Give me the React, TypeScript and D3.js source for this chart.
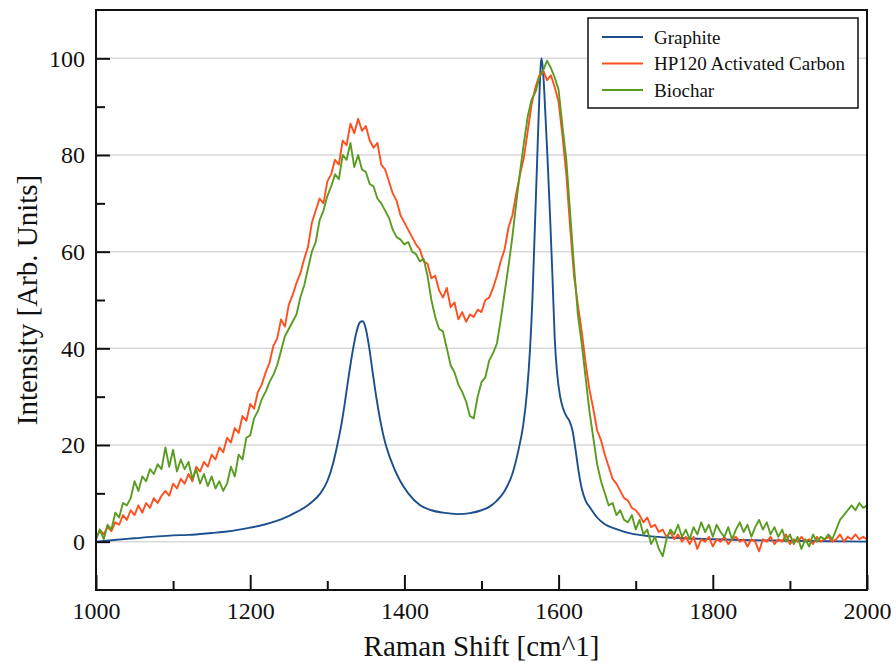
import { axisBottom, axisLeft, line, curveMonotoneX, scaleLinear, select } from "d3";
import { useEffect, useRef } from "react";

// Raman shift grid for the two noisy spectra (cm^-1)
const shift = [
  1000, 1005, 1010, 1015, 1020, 1025, 1030, 1035, 1040, 1045, 1050, 1055, 1060, 1065, 1070, 1075, 1080, 1085, 1090, 1095,
  1100, 1105, 1110, 1115, 1120, 1125, 1130, 1135, 1140, 1145, 1150, 1155, 1160, 1165, 1170, 1175, 1180, 1185, 1190, 1195,
  1200, 1205, 1210, 1215, 1220, 1225, 1230, 1235, 1240, 1245, 1250, 1255, 1260, 1265, 1270, 1275, 1280, 1285, 1290, 1295,
  1300, 1305, 1310, 1315, 1320, 1325, 1330, 1335, 1340, 1345, 1350, 1355, 1360, 1365, 1370, 1375, 1380, 1385, 1390, 1395,
  1400, 1405, 1410, 1415, 1420, 1425, 1430, 1435, 1440, 1445, 1450, 1455, 1460, 1465, 1470, 1475, 1480, 1485, 1490, 1495,
  1500, 1505, 1510, 1515, 1520, 1525, 1530, 1535, 1540, 1545, 1550, 1555, 1560, 1565, 1570, 1575, 1580, 1585, 1590, 1595,
  1600, 1605, 1610, 1615, 1620, 1625, 1630, 1635, 1640, 1645, 1650, 1655, 1660, 1665, 1670, 1675, 1680, 1685, 1690, 1695,
  1700, 1705, 1710, 1715, 1720, 1725, 1730, 1735, 1740, 1745, 1750, 1755, 1760, 1765, 1770, 1775, 1780, 1785, 1790, 1795,
  1800, 1805, 1810, 1815, 1820, 1825, 1830, 1835, 1840, 1845, 1850, 1855, 1860, 1865, 1870, 1875, 1880, 1885, 1890, 1895,
  1900, 1905, 1910, 1915, 1920, 1925, 1930, 1935, 1940, 1945, 1950, 1955, 1960, 1965, 1970, 1975, 1980, 1985, 1990, 1995,
  2000,
];

const hp120 = [
  0.5, 2.5, 1.5, 3.0, 2.2, 4.0, 3.5, 5.5, 4.5, 6.5, 5.5, 7.5, 6.0, 8.0, 7.0, 9.0, 8.0, 9.5, 10.5, 9.5,
  12.0, 11.0, 13.0, 12.0, 14.0, 12.5, 15.5, 14.5, 16.5, 15.5, 18.0, 17.0, 19.5, 18.5, 21.5, 20.5, 23.5, 22.5, 26.0, 25.0,
  28.5, 27.5, 31.0, 32.5, 35.0, 37.0, 40.5, 42.0, 46.0, 44.5, 49.0, 51.0, 53.5, 55.5, 58.5, 61.0, 66.0, 68.5, 71.0, 70.0,
  74.5, 76.0, 79.0, 78.0, 83.0, 82.0, 86.5, 84.5, 87.5, 85.0, 86.0, 83.0, 81.5, 82.5, 78.0, 77.0, 74.5, 72.0, 70.5, 67.5,
  66.0, 64.5, 63.0, 61.5, 60.5, 58.0, 57.5, 54.5, 55.0, 52.0, 50.5, 52.5, 48.5, 49.5, 46.0, 47.5, 45.5, 47.0, 46.5, 48.0,
  47.5, 50.0, 50.5, 52.5, 55.0, 58.0, 60.5, 65.0, 67.5, 72.0, 76.0, 79.5, 85.0, 90.5, 94.0, 96.5, 97.5, 95.5, 96.5, 94.0,
  91.0, 84.0, 76.0, 65.0, 55.0, 49.0, 43.5, 37.0, 31.5, 27.5, 23.0, 21.0, 18.0, 15.5, 13.0, 12.0, 10.5, 9.0, 8.5, 7.0,
  6.5, 5.5, 4.0, 5.0, 3.0, 3.5, 2.0, 2.5, 1.0, 2.0, 0.5, 1.5, 0.0, 1.0, -0.5, 1.0, -1.5, 0.5, 0.0, 1.0,
  -1.0, 0.5, 0.0, 1.0, -0.5, 0.5, 1.0, 0.0, 0.5, -1.0, 0.5, 0.0, -2.0, 0.5, 0.0, 1.0, -0.5, 0.5, 0.0, 1.5,
  -0.5, 0.5, 0.0, 1.0, 0.0, 0.5, -0.5, 1.0, 0.0, 0.5, 1.0, 0.0, 0.5, 1.5, 0.0, 1.0, 0.5, 1.5, 0.5, 1.0,
  0.5,
];

const biochar = [
  0.5, 2.5, 0.5, 3.5, 2.5, 6.0, 5.0, 8.0, 7.5, 9.0, 12.5, 10.5, 13.5, 12.5, 15.0, 14.0, 16.0, 15.0, 19.5, 15.5,
  19.0, 14.5, 17.0, 15.0, 16.5, 13.0, 15.0, 12.0, 14.0, 11.5, 13.5, 11.0, 12.5, 10.5, 12.0, 15.5, 13.5, 18.0, 17.0, 21.5,
  22.0, 25.5, 27.0, 29.5, 31.0, 33.0, 34.5, 36.5, 39.5, 42.5, 44.0, 45.5, 47.0, 50.5, 53.0, 56.5, 60.0, 62.0, 66.5, 68.5,
  71.5, 73.5, 76.0, 75.0, 80.0, 79.0, 82.5, 77.5, 80.0, 77.0, 76.5, 74.0, 73.5, 71.0, 70.0, 68.5, 67.0, 64.5, 63.0, 62.5,
  61.5, 62.0, 60.0, 59.5, 58.0, 58.5, 55.0, 50.0, 46.5, 44.0, 43.5, 40.0, 36.5, 35.0, 32.5, 31.0, 29.0, 26.0, 25.5, 30.0,
  33.0, 34.0, 37.5, 39.0, 41.0, 46.0, 51.5, 57.0, 63.0, 70.0, 76.5, 82.5, 88.0, 91.5, 93.0, 96.0, 97.5, 99.5, 98.0, 96.0,
  93.5, 86.0, 79.0, 68.0, 57.0, 47.0, 41.0, 34.0, 27.0, 21.5, 16.0, 12.5, 10.0, 7.5, 8.0, 5.5, 6.5, 4.5, 4.0, 5.5,
  2.5, 4.5, 1.5, 2.5, -0.5, 1.0, -1.5, -3.0, 0.5, 2.5, 1.5, 3.5, 1.0, 2.5, 0.5, 3.0, 1.5, 4.0, 2.0, 3.5,
  1.0, 3.5, 2.0, 1.0, 3.0, 0.5, 2.5, 4.0, 2.0, 3.5, 1.0, 3.0, 4.5, 2.5, 4.0, 1.5, 3.0, 1.0, 2.5, 0.0,
  1.5, -0.5, 1.0, -1.5, 0.5, -1.0, 1.5, 0.0, 1.0, 0.5, 1.5, 0.5, 2.5, 4.5, 5.5, 6.5, 7.5, 6.5, 8.0, 7.0,
  7.5,
];

// graphite is smooth, sampled more densely around the D and G bands
const graphiteShift = [
  1000, 1020, 1050, 1080, 1100, 1120, 1150, 1170, 1200, 1220, 1240, 1256, 1270, 1280, 1291, 1300, 1308, 1313, 1318, 1323,
  1328, 1333, 1338, 1343, 1346, 1350, 1354, 1358, 1362, 1366, 1370, 1375, 1381, 1394, 1405, 1420, 1435, 1450, 1470, 1485,
  1500, 1510, 1520, 1530, 1540, 1548, 1554, 1559, 1563, 1566, 1569, 1572, 1575, 1577, 1578, 1580, 1583, 1586, 1589, 1592,
  1595, 1598, 1602, 1606, 1610, 1614, 1618, 1622, 1626, 1630, 1635, 1641, 1650, 1660, 1675, 1693, 1720, 1750, 1800, 1850,
  1900, 1950, 2000,
];
const graphite = [
  0.0, 0.3, 0.7, 1.1, 1.3, 1.4, 1.8, 2.1, 2.9, 3.6, 4.6, 5.8, 7.0, 8.2, 10.0, 12.5, 16.5, 20.0, 24.0, 29.0,
  34.5, 39.5, 43.5, 45.5, 45.6, 44.0, 40.5, 36.0, 31.5, 27.5, 24.0, 20.5, 17.5, 12.7, 10.0, 7.6, 6.5, 6.0, 5.7, 5.9,
  6.5, 7.2, 8.5, 10.5, 14.0, 19.0, 24.0, 31.0, 40.0, 50.0, 64.0, 78.0, 92.0, 99.0, 100.0, 97.0, 88.0, 78.0, 67.0, 55.0,
  42.0, 35.0, 30.0, 27.5, 26.0, 25.0, 23.0, 19.0, 14.5, 11.0, 8.5, 7.0, 5.0, 3.6, 2.6, 1.7, 1.1, 0.8, 0.5, 0.3,
  0.2, 0.1, 0.0,
];

const xMajor = [1000, 1200, 1400, 1600, 1800, 2000];
const xMinor = [1100, 1300, 1500, 1700, 1900];
const yMajor = [0, 20, 40, 60, 80, 100];
const yMinor = [10, 30, 50, 70, 90];

const seriesNames = ["Graphite", "HP120 Activated Carbon", "Biochar"];
const seriesColors = ["#1c4f8e", "#ff4f1f", "#5a9c22"];

const W = 896;
const H = 663;
const margin = { top: 10, right: 29, bottom: 73, left: 96 };
const width = W - margin.left - margin.right;
const height = H - margin.top - margin.bottom;
const FONT = "Liberation Serif";

const x = scaleLinear().domain([1000, 2000]).range([0, width]);
const y = scaleLinear().domain([-10, 110]).range([height, 0]);

export default function App() {
  const xAxisRef = useRef<SVGGElement>(null);
  const yAxisRef = useRef<SVGGElement>(null);
  const xMinorRef = useRef<SVGGElement>(null);
  const yMinorRef = useRef<SVGGElement>(null);

  useEffect(() => {
    const style = (g: any) => {
      g.attr("font-family", null).attr("font-size", null);
      g.select(".domain").remove();
      g.selectAll("line").attr("stroke", "#111").attr("stroke-width", 2);
      g.selectAll("text").style("font-family", FONT).style("font-size", "24px").attr("fill", "#111");
    };
    select(xAxisRef.current).call(axisBottom(x).tickValues(xMajor).tickSize(-15).tickPadding(12).tickFormat((d: any) => String(d))).call(style);
    select(yAxisRef.current).call(axisLeft(y).tickValues(yMajor).tickSize(-14).tickPadding(11)).call(style);
    select(xMinorRef.current).call(axisBottom(x).tickValues(xMinor).tickSize(-9).tickFormat(() => "")).call(style);
    select(yMinorRef.current).call(axisLeft(y).tickValues(yMinor).tickSize(-9).tickFormat(() => "")).call(style);
  }, []);

  const noisy = line<number>()
    .x((_, i) => x(shift[i]))
    .y((d) => y(d));
  const smooth = line<number>()
    .x((_, i) => x(graphiteShift[i]))
    .y((d) => y(d))
    .curve(curveMonotoneX);

  const paths = [smooth(graphite), noisy(hp120), noisy(biochar)];

  const legendX = 588 - margin.left;
  const legendY = 18 - margin.top;

  return (
    <svg width={W} height={H} style={{ position: "absolute", left: 0, top: 0, background: "#fff", fontFamily: FONT }}>
      <defs>
        <clipPath id="plot-clip">
          <rect x={0} y={0} width={width} height={height} />
        </clipPath>
      </defs>
      <g transform={`translate(${margin.left},${margin.top})`}>
        {yMajor.map((v) => (
          <line key={v} x1={0} x2={width} y1={y(v)} y2={y(v)} stroke="#d9d9d9" strokeWidth={1.5} />
        ))}
        <g clipPath="url(#plot-clip)" fill="none" strokeWidth={1.9} strokeLinejoin="round">
          {paths.map((d, i) => (
            <path key={seriesNames[i]} d={d ?? ""} stroke={seriesColors[i]} />
          ))}
        </g>
        <g ref={xAxisRef} transform={`translate(0,${height})`} />
        <g ref={xMinorRef} transform={`translate(0,${height})`} />
        <g ref={yAxisRef} />
        <g ref={yMinorRef} />
        <rect x={0} y={0} width={width} height={height} fill="none" stroke="#111" strokeWidth={2} />

        <g transform={`translate(${legendX},${legendY})`}>
          <rect x={0} y={0} width={270} height={90} fill="#fff" stroke="#111" strokeWidth={1.5} />
          {seriesNames.map((name, i) => (
            <g key={name} transform={`translate(0,${19 + i * 26.5})`}>
              <line x1={14} x2={55} y1={0} y2={0} stroke={seriesColors[i]} strokeWidth={2} />
              <text x={66} y={0} dy="0.35em" style={{ fontFamily: FONT, fontSize: 19 }} fill="#111">
                {name}
              </text>
            </g>
          ))}
        </g>
      </g>
      <text
        x={margin.left + width / 2}
        y={656}
        textAnchor="middle"
        style={{ fontFamily: FONT, fontSize: 29 }}
        fill="#111"
      >
        Raman Shift [cm^1]
      </text>
      <text
        transform={`translate(37,${margin.top + height / 2}) rotate(-90)`}
        textAnchor="middle"
        style={{ fontFamily: FONT, fontSize: 29 }}
        fill="#111"
      >
        Intensity [Arb. Units]
      </text>
    </svg>
  );
}
